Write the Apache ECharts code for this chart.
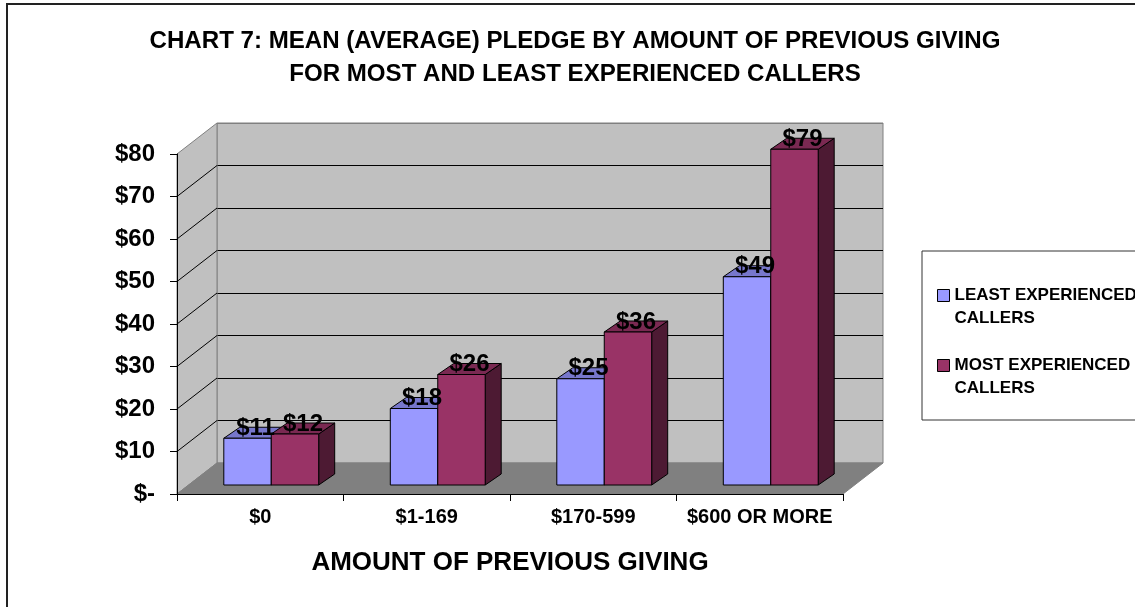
<!DOCTYPE html>
<html>
<head>
<meta charset="utf-8">
<script src="https://cdn.jsdelivr.net/npm/echarts@6/dist/echarts.min.js"></script>
<style>
  html, body { margin: 0; padding: 0; background: #ffffff; }
  #chart { width: 1135px; height: 607px; }
</style>
</head>
<body>
<div id="chart"></div>
<script>
// ---- data ----
const categories = ['$0', '$1-169', '$170-599', '$600 OR MORE'];
const leastExperienced = [11, 18, 25, 49];
const mostExperienced = [12, 26, 36, 79];
const seriesNames = ['LEAST EXPERIENCED CALLERS', 'MOST EXPERIENCED CALLERS'];
const yTickLabels = ['$-', '$10', '$20', '$30', '$40', '$50', '$60', '$70', '$80'];
const yMin = 0, yMax = 80, yStep = 10;

// ---- look ----
const FONT = '"Liberation Sans", Arial, Helvetica, sans-serif';
// how far the back wall sits behind the front plane (px)
const DEPTH_X = 40, DEPTH_Y = -31;
// where the bars stand inside the floor, and their own depth
const BAR_FRONT_X = 11, BAR_FRONT_Y = -9;
const BAR_DEPTH_X = 16, BAR_DEPTH_Y = -11;
const BAR_FRAC = 0.285;
const faceColors = [
  { front: '#9999ff', top: '#7777cc', side: '#4d4d80' },
  { front: '#993366', top: '#7a2952', side: '#4d1a33' }
];

// floor and side wall of the 3-D box, drawn off the front grid's rectangle
function wallRenderer(params, api) {
  const cs = params.coordSys;
  const x0 = cs.x, y0 = cs.y, x1 = cs.x + cs.width, y1 = cs.y + cs.height;
  const children = [
    { type: 'polygon',
      shape: { points: [[x0, y0], [x0 + DEPTH_X, y0 + DEPTH_Y], [x0 + DEPTH_X, y1 + DEPTH_Y], [x0, y1]] },
      style: { fill: '#c0c0c0', stroke: '#808080', lineWidth: 1 } },
    { type: 'polygon',
      shape: { points: [[x0, y1], [x1, y1], [x1 + DEPTH_X, y1 + DEPTH_Y], [x0 + DEPTH_X, y1 + DEPTH_Y]] },
      style: { fill: '#808080', stroke: '#808080', lineWidth: 1 } }
  ];
  // grid lines running across the side wall
  for (let i = 1; i < yTickLabels.length - 1; i++) {
    const y = api.coord([0, yMin + i * yStep])[1];
    children.push({ type: 'line',
      shape: { x1: x0, y1: y, x2: x0 + DEPTH_X, y2: y + DEPTH_Y },
      style: { stroke: '#000000', lineWidth: 1 } });
  }
  return { type: 'group', children: children };
}

// one 3-D column: front, top and side faces plus its value label
function barRenderer(k) {
  const c = faceColors[k];
  return function (params, api) {
    const ci = api.value(0), v = api.value(1);
    const base = api.coord([ci, 0]);
    const tip = api.coord([ci, v]);
    const bw = api.size([1, 0])[0] * BAR_FRAC;
    const x0 = base[0] - bw + k * bw + BAR_FRONT_X;
    const x1 = x0 + bw;
    const yb = base[1] + BAR_FRONT_Y;
    const yt = tip[1] + BAR_FRONT_Y;
    const dx = BAR_DEPTH_X, dy = BAR_DEPTH_Y;
    const edge = { stroke: '#000000', lineWidth: 1 };
    return { type: 'group', children: [
      { type: 'polygon',
        shape: { points: [[x1, yt], [x1 + dx, yt + dy], [x1 + dx, yb + dy], [x1, yb]] },
        style: Object.assign({ fill: c.side }, edge) },
      { type: 'polygon',
        shape: { points: [[x0, yt], [x1, yt], [x1 + dx, yt + dy], [x0 + dx, yt + dy]] },
        style: Object.assign({ fill: c.top }, edge) },
      { type: 'rect',
        shape: { x: x0, y: yt, width: bw, height: yb - yt },
        style: Object.assign({ fill: c.front }, edge) },
      { type: 'text', z2: 100,
        style: { text: '$' + v, x: x0 + bw / 2 + dx / 2, y: yt + dy + 1,
                 align: 'center', verticalAlign: 'middle',
                 textAlign: 'center', textVerticalAlign: 'middle',
                 fontSize: 24, fontWeight: 'bold', fontFamily: FONT, fill: '#000000' } }
    ]};
  };
}

const chart = echarts.init(document.getElementById('chart'), null, { renderer: 'canvas' });
chart.setOption({
  animation: false,
  backgroundColor: '#ffffff',
  title: {
    text: 'CHART 7: MEAN (AVERAGE) PLEDGE BY AMOUNT OF PREVIOUS GIVING\nFOR MOST AND LEAST EXPERIENCED CALLERS',
    left: 575, textAlign: 'center', top: 25, padding: 0,
    textStyle: { fontSize: 24.1, fontWeight: 'bold', fontFamily: FONT, color: '#000000', lineHeight: 33 }
  },
  legend: {
    orient: 'vertical', left: 922, top: 251,
    data: seriesNames, icon: 'rect', itemWidth: 12, itemHeight: 12, itemGap: 1,
    padding: [10, 30, 20, 15], borderColor: '#333333', borderWidth: 1,
    selectedMode: false,
    // blank first line keeps the swatch level with the first text line
    formatter: function (n) { return ' \n' + n.replace(' CALLERS', '\nCALLERS'); },
    itemStyle: { borderColor: '#000000', borderWidth: 1 },
    textStyle: { fontSize: 17, fontWeight: 'bold', fontFamily: FONT, color: '#000000', lineHeight: 23 }
  },
  grid: [
    { left: 177, top: 154, width: 666, height: 340, show: false },
    { left: 217, top: 123, width: 666, height: 340, show: true, z: 0,
      backgroundColor: '#c0c0c0', borderColor: '#808080', borderWidth: 1 }
  ],
  xAxis: [
    { gridIndex: 0, type: 'category', data: categories, z: 5,
      axisLine: { show: true, lineStyle: { color: '#000000', width: 1 } },
      axisTick: { show: true, interval: 0, length: 7, lineStyle: { color: '#000000' } },
      axisLabel: { interval: 0, fontSize: 20, fontWeight: 'bold', fontFamily: FONT, color: '#000000', margin: 13 },
      splitLine: { show: false },
      name: 'AMOUNT OF PREVIOUS GIVING', nameLocation: 'middle', nameGap: 56,
      nameTextStyle: { fontSize: 26, fontWeight: 'bold', fontFamily: FONT, color: '#000000' } },
    { gridIndex: 1, type: 'category', data: categories, show: false }
  ],
  yAxis: [
    { gridIndex: 0, type: 'value', min: yMin, max: yMax, interval: yStep, z: 5,
      axisLine: { show: true, lineStyle: { color: '#000000', width: 1 } },
      axisTick: { show: true, length: 7, lineStyle: { color: '#000000' } },
      axisLabel: { fontSize: 24, fontWeight: 'bold', fontFamily: FONT, color: '#000000', margin: 22,
                   formatter: function (v) { return yTickLabels[Math.round((v - yMin) / yStep)]; } },
      splitLine: { show: false } },
    { gridIndex: 1, type: 'value', min: yMin, max: yMax, interval: yStep, z: 1,
      axisLine: { show: false }, axisTick: { show: false }, axisLabel: { show: false },
      splitLine: { show: true, lineStyle: { width: 1,
        color: ['#808080', '#000000', '#000000', '#000000', '#000000', '#000000', '#000000', '#000000', '#808080'] } } }
  ],
  series: [
    { type: 'custom', name: 'walls', xAxisIndex: 0, yAxisIndex: 0, z: 2, silent: true,
      renderItem: wallRenderer, data: [[0, 0]] },
    { type: 'custom', name: seriesNames[0], xAxisIndex: 0, yAxisIndex: 0, z: 3,
      itemStyle: { color: faceColors[0].front },
      renderItem: barRenderer(0),
      data: leastExperienced.map(function (v, i) { return [i, v]; }) },
    { type: 'custom', name: seriesNames[1], xAxisIndex: 0, yAxisIndex: 0, z: 3,
      itemStyle: { color: faceColors[1].front },
      renderItem: barRenderer(1),
      data: mostExperienced.map(function (v, i) { return [i, v]; }) }
  ],
  graphic: [
    { type: 'rect', silent: true, z: 10,
      shape: { x: 7, y: 4, width: 1140, height: 620 },
      style: { fill: 'none', stroke: '#222222', lineWidth: 2 } }
  ]
});
</script>
</body>
</html>
